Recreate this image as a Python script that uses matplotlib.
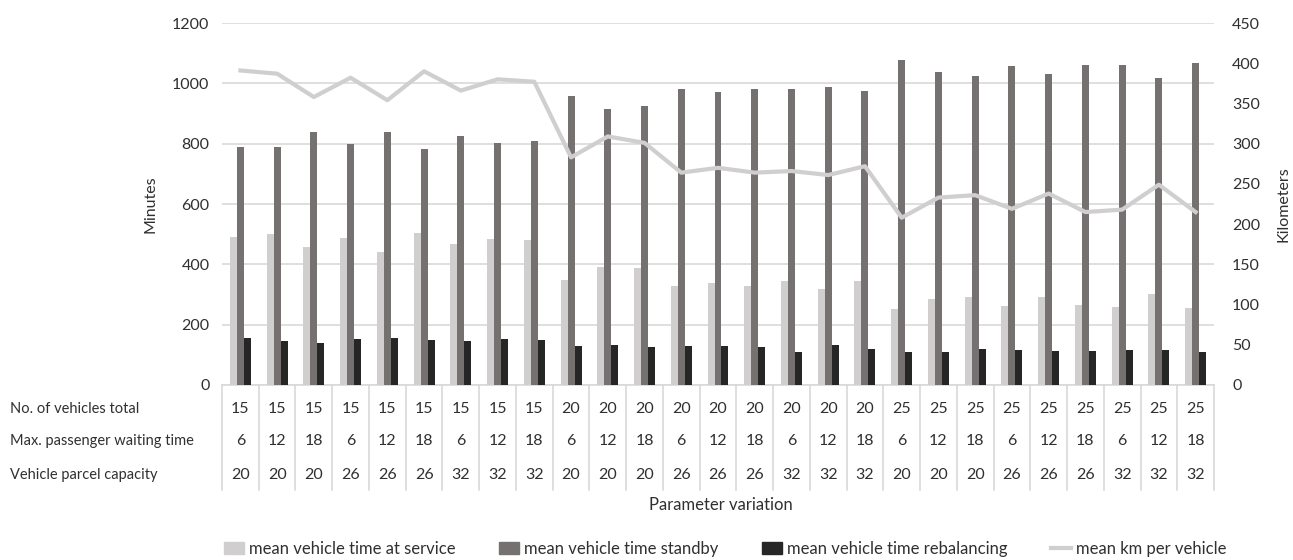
import numpy as np
import matplotlib
matplotlib.use("Agg")
import matplotlib.pyplot as plt
from matplotlib.patches import Patch
from matplotlib.lines import Line2D
import matplotlib.transforms as mtransforms

plt.rcParams['font.family'] = ['Lato', 'DejaVu Sans']

vehicles = [15]*9 + [20]*9 + [25]*9
waiting = [6, 12, 18] * 9
capacity = ([20]*3 + [26]*3 + [32]*3) * 3

service = [490, 500, 459, 488, 440, 505, 466, 483, 481,
           349, 390, 388, 327, 337, 329, 345, 318, 345,
           252, 285, 291, 262, 293, 264, 259, 302, 256]
standby = [788, 790, 840, 798, 840, 783, 824, 802, 808,
           959, 915, 925, 980, 971, 980, 980, 988, 973,
           1076, 1039, 1026, 1058, 1030, 1061, 1061, 1017, 1068]
rebalancing = [157, 147, 139, 151, 157, 149, 145, 151, 149,
               130, 134, 126, 128, 128, 126, 110, 131, 118,
               110, 109, 119, 115, 112, 112, 115, 115, 109]
km = [391, 387, 358, 382, 354, 390, 366, 380, 377,
      283, 309, 301, 264, 270, 264, 266, 261, 272,
      208, 233, 236, 219, 238, 215, 218, 249, 215]

row_labels = ["No. of vehicles total", "Max. passenger waiting time", "Vehicle parcel capacity"]

c_service = "#d0cece"
c_standby = "#767171"
c_rebal = "#262626"
c_line = "#d0cece"
c_grid = "#d9d9d9"
txt = "#303030"

fig = plt.figure(figsize=(12.93, 5.6), dpi=100)
ax = fig.add_axes([0.1717, 0.3125, 0.7672, 0.6464])
ax2 = ax.twinx()

x = np.arange(len(service))
w = 0.19
ax.bar(x - w, service, w, color=c_service, zorder=3)
ax.bar(x, standby, w, color=c_standby, zorder=3)
ax.bar(x + w, rebalancing, w, color=c_rebal, zorder=3)
ax2.plot(x, km, color=c_line, lw=3, zorder=4)

ax.set_xlim(-0.5, len(x) - 0.5)
ax.set_ylim(0, 1200)
ax.set_yticks(range(0, 1201, 200))
ax2.set_ylim(0, 450)
ax2.set_yticks(range(0, 451, 50))
ax.yaxis.grid(True, color=c_grid, lw=1.2)
ax.set_axisbelow(True)
for a in (ax, ax2):
    for s in a.spines.values():
        s.set_visible(False)
    a.tick_params(length=0, labelsize=11.5, labelcolor=txt)
ax.spines['bottom'].set_visible(True)
ax.spines['bottom'].set_color(c_grid)
ax.spines['bottom'].set_linewidth(1.2)
ax.set_xticks([])
ax.tick_params(axis='y', pad=9)
ax2.tick_params(axis='y', pad=13)

ax.set_ylabel("Minutes", fontsize=11.5, color=txt)
ax.yaxis.set_label_coords(-0.0655, 0.5)
ax2.set_ylabel("Kilometers", fontsize=11.5, color=txt, rotation=90)
ax2.yaxis.set_label_coords(1.0635, 0.5)

# data table under the axis
trans = mtransforms.blended_transform_factory(ax.transData, ax.transAxes)
h = 0.6464 * 560
row_y = [-(409 - 385) / h, -(441 - 385) / h, -(475 - 385) / h]
bottom_y = -(490 - 385) / h
for b in np.arange(-0.5, len(x), 1.0):
    ax.plot([b, b], [0, bottom_y], transform=trans, color=c_grid, lw=1.2, clip_on=False)
for rows, yy in zip([vehicles, waiting, capacity], row_y):
    for xi, v in zip(x, rows):
        ax.text(xi, yy, str(v), transform=trans, ha='center', va='center', fontsize=11.5, color=txt)
for lab, yy in zip(row_labels, row_y):
    fig.text(10 / 1293, 0.3125 + yy * 0.6464, lab, ha='left', va='center', fontsize=10.5, color=txt)

fig.text(721 / 1293, 1 - 505 / 560, "Parameter variation", ha='center', va='center', fontsize=12, color=txt)

handles = [Patch(color=c_service), Patch(color=c_standby), Patch(color=c_rebal),
           Line2D([], [], color=c_line, lw=3)]
labels = ["mean vehicle time at service", "mean vehicle time standby",
          "mean vehicle time rebalancing", "mean km per vehicle"]
fig.legend(handles, labels, loc='center', bbox_to_anchor=(725 / 1293, 1 - 549 / 560), ncol=4,
           frameon=False, fontsize=12, handlelength=1.2, handleheight=0.7, handletextpad=0.3,
           columnspacing=2.6, labelcolor=txt)

fig.savefig("out.png", dpi=100)
